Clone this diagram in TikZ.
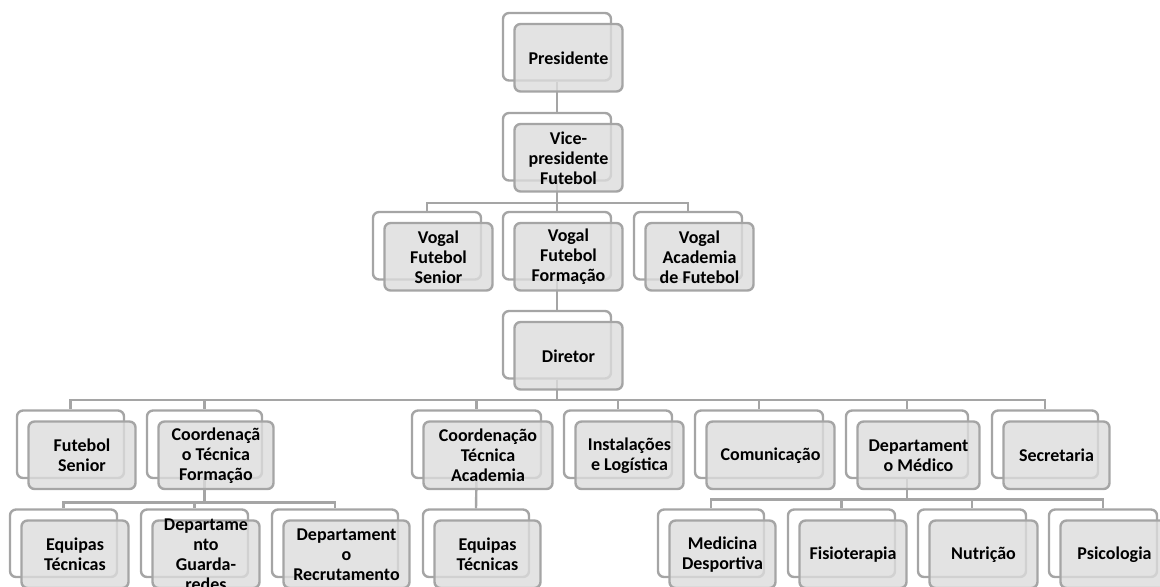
\documentclass[tikz,border=0pt]{standalone}
\usepackage{fontspec}
\setmainfont{Carlito}
\pgfdeclarelayer{bg}
\pgfsetlayers{bg,main}
\definecolor{lnc}{HTML}{A5A5A5}
\definecolor{frc}{HTML}{DCDCDC}
\tikzset{
  backbox/.style={draw=lnc, line width=1.8pt, fill=white, rounded corners=4.5pt, minimum height=50.6pt, inner sep=0pt},
  frontbox/.style={draw=lnc, line width=1.8pt, fill=frc, fill opacity=0.8, rounded corners=4.5pt, minimum height=50.6pt, inner sep=0pt},
  lbl/.style={font=\fontsize{13.5}{15}\selectfont\bfseries, align=center, inner sep=0pt, text=black},
  conn/.style={draw=lnc, line width=1.8pt},
}
\newcommand\orgbox[5]{%
  \node[backbox, minimum width=#4*0.75pt] (#1) at (#2, #3+33.75) {};
  \node[frontbox, minimum width=#4*0.75pt] (#1-f) at ([shift={(11.5,11)}]#1.center) {};
  \node[lbl] (#1-t) at (#1-f.center) {#5};
}
\begin{document}
\begin{tikzpicture}[x=0.75pt, y=-0.75pt]
\useasboundingbox (0,0) rectangle (1160,586);
\orgbox{pres}{557}{13}{108}{Presidente}
\orgbox{vice}{557}{113}{108}{Vice-\\presidente\\Futebol}
\orgbox{vfs}{427}{212}{108}{Vogal\\Futebol\\Senior}
\orgbox{vff}{557}{212}{108}{Vogal\\Futebol\\Formação}
\orgbox{vaf}{688}{212}{108}{Vogal\\Academia\\de Futebol}
\orgbox{dir}{557}{311}{108}{Diretor}
\orgbox{fs}{70.5}{410.5}{107}{Futebol\\Senior}
\orgbox{ctf}{204.5}{410.5}{115}{Coordenaçã\\o Técnica\\Formação}
\orgbox{cta}{476.5}{410.5}{129}{Coordenação\\Técnica\\Academia}
\orgbox{inst}{618}{410.5}{108}{Instalações\\e Logística}
\orgbox{com}{759}{410.5}{128}{Comunicação}
\orgbox{dmed}{907}{410.5}{122}{Departament\\o Médico}
\orgbox{sec}{1045}{410.5}{106}{Secretaria}
\orgbox{et1}{63.5}{509.5}{107}{Equipas\\Técnicas}
\orgbox{dgr}{194.5}{509.5}{107}{Departame\\nto\\Guarda-\\redes}
\orgbox{drec}{335}{509.5}{126}{Departament\\o\\Recrutamento}
\orgbox{et2}{476}{509.5}{106}{Equipas\\Técnicas}
\orgbox{med}{711}{509.5}{106}{Medicina\\Desportiva}
\orgbox{fis}{841.5}{509.5}{107}{Fisioterapia}
\orgbox{nut}{972}{509.5}{108}{Nutrição}
\orgbox{psi}{1103}{509.5}{108}{Psicologia}
\begin{pgfonlayer}{bg}
  \draw[conn] (pres.south) -- (vice.north);
  \draw[conn] (vice.south) -- (vff.north);
  \foreach \c in {vfs,vaf} \draw[conn] (vice.south) -- ++(0,21.5) -| (\c.north);
  \draw[conn] (vff.south) -- (dir.north);
  \foreach \c in {fs,ctf,cta,inst,com,dmed,sec} \draw[conn] (dir.south) -- ++(0,20.5) -| (\c.north);
  \foreach \c in {et1,dgr,drec} \draw[conn] (ctf.south) -- ++(0,23.5) -| (\c.north);
  \draw[conn] (cta.south) -- (et2.north);
  \foreach \c in {med,fis,nut,psi} \draw[conn] (dmed.south) -- ++(0,20.5) -| (\c.north);
\end{pgfonlayer}
\end{tikzpicture}
\end{document}
